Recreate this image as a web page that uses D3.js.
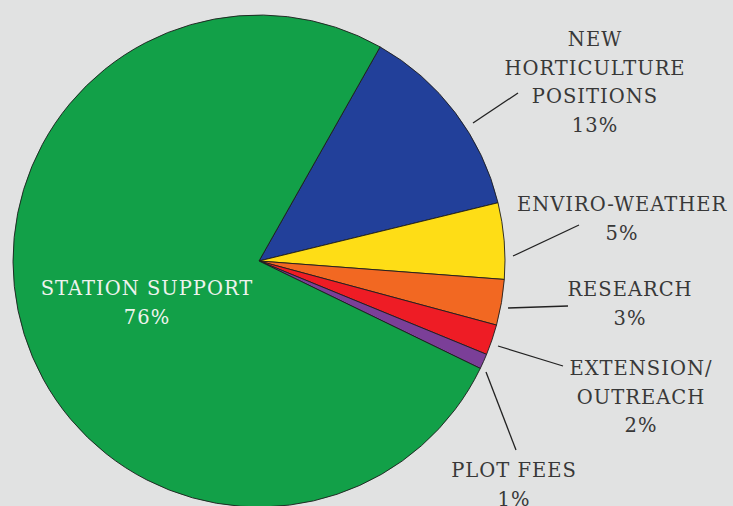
<!DOCTYPE html>
<html><head><meta charset="utf-8">
<script src="https://cdn.jsdelivr.net/npm/d3@7"></script>
<style>html,body{margin:0;padding:0;background:#e1e2e2;}svg{display:block;}
text{font-family:"DejaVu Serif",serif;}</style>
</head><body>
<svg id="c" width="733" height="506"></svg>
<script>
const categories = ["NEW HORTICULTURE POSITIONS","ENVIRO-WEATHER","RESEARCH","EXTENSION/ OUTREACH","PLOT FEES","STATION SUPPORT"];
const values = [13, 5, 3, 2, 1, 76];
const labelLines = [["NEW","HORTICULTURE","POSITIONS"],["ENVIRO-WEATHER"],["RESEARCH"],["EXTENSION/","OUTREACH"],["PLOT FEES"],["STATION SUPPORT"]];
const colors = ["#22409a","#fedd16","#f26822","#ee1c25","#7b3f98","#12a048"];

// layout (not data)
const cx = 259, cy = 261, R = 246;
const startDeg = 29.5;
const labelPos = [
  {x:595, y:46, lead:[[473,123],[518,93]]},
  {x:622, y:211, lead:[[513,256],[579,225]]},
  {x:630, y:296, lead:[[508,308],[568,306]]},
  {x:641, y:375, lead:[[498,346],[563,366]]},
  {x:514, y:477, lead:[[486,372],[516,450]]},
  {x:147, y:295, lead:null, fill:"#eef3ee"}
];
const lineH = 28.7;

const svg = d3.select("#c");
svg.append("rect").attr("width",733).attr("height",506).attr("fill","#e1e2e2");

const s = startDeg*Math.PI/180;
const pie = d3.pie().sort(null).value(d=>d).startAngle(s).endAngle(s+2*Math.PI);
const arc = d3.arc().innerRadius(0).outerRadius(R);
const g = svg.append("g").attr("transform",`translate(${cx},${cy})`);
g.selectAll("path").data(pie(values)).join("path")
  .attr("d",arc).attr("fill",(d,i)=>colors[i])
  .attr("stroke","#1d1d1d").attr("stroke-width",0.9).attr("stroke-linejoin","round");

const line = d3.line();
labelPos.forEach((p,i)=>{
  if(p.lead) svg.append("path").attr("d",line(p.lead)).attr("stroke","#222").attr("stroke-width",1.3).attr("fill","none");
  const t = svg.append("text").attr("text-anchor","middle")
    .attr("font-size",19.5).attr("letter-spacing",1)
    .attr("fill",p.fill||"#383838");
  const lines = labelLines[i].concat([values[i]+"%"]);
  lines.forEach((l,k)=>{
    t.append("tspan").attr("x",p.x).attr("y",p.y+k*lineH).text(l);
  });
});
</script>
</body></html>
